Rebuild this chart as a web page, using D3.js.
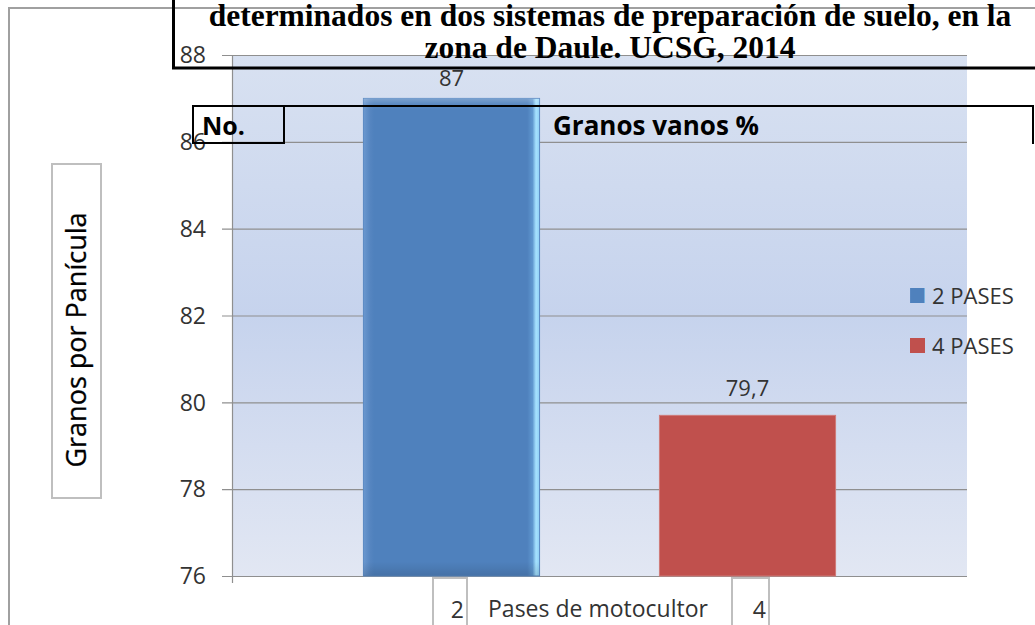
<!DOCTYPE html>
<html>
<head>
<meta charset="utf-8">
<script src="https://cdn.jsdelivr.net/npm/d3@7"></script>
<style>
  html, body { margin: 0; padding: 0; background: #fff; }
  svg { display: block; }
</style>
</head>
<body>
<svg id="chart" width="1035" height="625"></svg>
<script>
// chart values
const series = ["2 PASES", "4 PASES"];
const values = [87, 79.7];
const valueLabels = ["87", "79,7"];
const yTicks = [76, 78, 80, 82, 84, 86, 88];
const xCats = ["2", "4"];
const titleLines = [
  "determinados en dos sistemas de preparación de suelo, en la",
  "zona de Daule. UCSG, 2014"
];

(function () {
  const svg = d3.select("#chart");
  const sans = "'Open Sans', 'DejaVu Sans', sans-serif";
  const ink = "#333";

  // plot box
  const plot = { left: 232, right: 967, top: 55, bottom: 576 };

  const y = d3.scaleLinear().domain([76, 88]).range([plot.bottom, plot.top]);
  const x = d3.scaleBand()
    .domain(series)
    .range([plot.left, plot.right])
    .paddingInner(0.405)
    .paddingOuter(0.444);

  const color = d3.scaleOrdinal().domain(series).range(["#4f81bd", "#c0504d"]);

  const defs = svg.append("defs");
  const bg = defs.append("linearGradient").attr("id", "plotBg")
    .attr("x1", 0).attr("y1", 0).attr("x2", 0).attr("y2", 1);
  bg.append("stop").attr("offset", "0%").attr("stop-color", "#d8e1f1");
  bg.append("stop").attr("offset", "50%").attr("stop-color", "#c6d3ed");
  bg.append("stop").attr("offset", "100%").attr("stop-color", "#e2e7f3");

  // bevel look for the blue bar
  const bev = defs.append("linearGradient").attr("id", "blueBevel")
    .attr("x1", 0).attr("y1", 0).attr("x2", 1).attr("y2", 0);
  [["0%", "#6b98cf"], ["4%", "#5585c0"], ["6%", "#4f81bd"], ["93%", "#4f81bd"],
   ["96%", "#5f97cf"], ["98%", "#a6e2ff"], ["100%", "#8fd0f5"]]
    .forEach(([o, c]) => bev.append("stop").attr("offset", o).attr("stop-color", c));
  const bevV = defs.append("linearGradient").attr("id", "blueBevelV")
    .attr("x1", 0).attr("y1", 0).attr("x2", 0).attr("y2", 1);
  [["0%", "rgba(255,255,255,0.25)"], ["1.2%", "rgba(255,255,255,0.08)"], ["2.5%", "rgba(255,255,255,0)"],
   ["97%", "rgba(0,0,0,0)"], ["100%", "rgba(0,0,0,0.12)"]]
    .forEach(([o, c]) => bevV.append("stop").attr("offset", o).attr("stop-color", c));

  // outer chart frame
  svg.append("path")
    .attr("d", "M9,625 V8 H1035")
    .attr("fill", "none")
    .attr("stroke", "#a0a0a0")
    .attr("stroke-width", 2);

  // plot background
  svg.append("rect")
    .attr("x", plot.left).attr("y", plot.top)
    .attr("width", plot.right - plot.left).attr("height", plot.bottom - plot.top)
    .attr("fill", "url(#plotBg)");

  // gridlines + tick marks
  svg.append("g").selectAll("line")
    .data(yTicks)
    .join("line")
    .attr("x1", plot.left - 10).attr("x2", plot.right)
    .attr("y1", d => y(d) + 0.5).attr("y2", d => y(d) + 0.5)
    .attr("stroke", "#8f8f8f").attr("stroke-width", 1.2);

  // y axis line
  svg.append("line")
    .attr("x1", plot.left + 0.5).attr("x2", plot.left + 0.5)
    .attr("y1", plot.top).attr("y2", plot.bottom + 7)
    .attr("stroke", "#8f8f8f").attr("stroke-width", 1.2);

  // tick labels
  svg.append("g").selectAll("text")
    .data(yTicks)
    .join("text")
    .attr("x", 206).attr("y", d => y(d))
    .attr("dy", "0.36em")
    .attr("text-anchor", "end")
    .style("font-family", sans).style("font-size", "23px").style("fill", ink)
    .text(d => d);

  // bars
  const bars = svg.append("g");
  bars.selectAll("rect.bar")
    .data(values)
    .join("rect")
    .attr("class", "bar")
    .attr("x", (d, i) => x(series[i]))
    .attr("width", x.bandwidth())
    .attr("y", d => y(d))
    .attr("height", d => y(76) - y(d))
    .attr("fill", (d, i) => i === 0 ? "url(#blueBevel)" : color(series[i]))
    .attr("stroke", (d, i) => i === 0 ? "#5a8ac4" : "#cf7a78")
    .attr("stroke-width", 1);
  bars.append("rect")
    .attr("x", x(series[0])).attr("width", x.bandwidth())
    .attr("y", y(values[0])).attr("height", y(76) - y(values[0]))
    .attr("fill", "url(#blueBevelV)");

  // value labels
  svg.append("g").selectAll("text")
    .data(values)
    .join("text")
    .attr("x", (d, i) => x(series[i]) + x.bandwidth() / 2)
    .attr("y", (d, i) => y(d) - (i === 0 ? 12 : 19))
    .attr("text-anchor", "middle")
    .style("font-family", sans).style("font-size", "22px").style("fill", ink)
    .text((d, i) => valueLabels[i]);

  // legend
  const lg = svg.append("g").selectAll("g")
    .data(series)
    .join("g")
    .attr("transform", (d, i) => `translate(910, ${288 + i * 50})`);
  lg.append("rect")
    .attr("width", 15).attr("height", 15)
    .attr("fill", (d, i) => i === 0 ? "url(#blueBevel)" : color(d));
  lg.append("text")
    .attr("x", 22).attr("y", 16)
    .style("font-family", sans).style("font-size", "22px").style("fill", ink)
    .text(d => d);

  // y axis title box
  svg.append("rect")
    .attr("x", 52).attr("y", 164).attr("width", 49).attr("height", 334)
    .attr("fill", "#fff").attr("stroke", "#bfbfbf").attr("stroke-width", 2);
  svg.append("text")
    .attr("transform", "translate(86, 340) rotate(-90)")
    .attr("text-anchor", "middle")
    .style("font-family", sans).style("font-size", "27px").style("fill", "#000")
    .style("stroke", "#000").style("stroke-width", 0.3)
    .text("Granos por Panícula");

  // x axis: category boxes + title
  const xCatPos = [{ x0: 433, x1: 467 }, { x0: 732, x1: 769 }];
  const cg = svg.append("g").selectAll("g")
    .data(xCats)
    .join("g");
  cg.append("rect")
    .attr("x", (d, i) => xCatPos[i].x0).attr("y", 578)
    .attr("width", (d, i) => xCatPos[i].x1 - xCatPos[i].x0).attr("height", 60)
    .attr("fill", "#fff").attr("stroke", "#bfbfbf").attr("stroke-width", 2);
  cg.append("text")
    .attr("x", (d, i) => xCatPos[i].x1 - 3).attr("y", 618)
    .attr("text-anchor", "end")
    .style("font-family", sans).style("font-size", "23px").style("fill", ink)
    .text(d => d);
  svg.append("text")
    .attr("x", 598).attr("y", 617)
    .attr("text-anchor", "middle")
    .style("font-family", sans).style("font-size", "23px").style("fill", ink)
    .text("Pases de motocultor");

  // document overlays: title box and table header
  svg.append("rect")
    .attr("x", 173.5).attr("y", -10).attr("width", 900).attr("height", 78)
    .attr("fill", "none").attr("stroke", "#000").attr("stroke-width", 3);
  svg.append("g").selectAll("text")
    .data(titleLines)
    .join("text")
    .attr("x", 610).attr("y", (d, i) => 26 + i * 32)
    .attr("text-anchor", "middle")
    .style("font-family", "'Liberation Serif', 'Times New Roman', serif")
    .style("font-weight", 700).style("font-size", "31.5px").style("fill", "#000")
    .text(d => d);

  svg.append("rect")
    .attr("x", 193).attr("y", 106).attr("width", 91).attr("height", 37)
    .attr("fill", "none").attr("stroke", "#000").attr("stroke-width", 2);
  svg.append("path")
    .attr("d", "M284,106 H1033 V144")
    .attr("fill", "none").attr("stroke", "#000").attr("stroke-width", 2);
  svg.append("text")
    .attr("x", 202).attr("y", 135)
    .style("font-family", sans).style("font-weight", 700).style("font-size", "25px").style("fill", "#000")
    .text("No.");
  svg.append("text")
    .attr("x", 553).attr("y", 135)
    .style("font-family", sans).style("font-weight", 700).style("font-size", "26px").style("fill", "#000")
    .text("Granos vanos %");
})();
</script>
</body>
</html>
